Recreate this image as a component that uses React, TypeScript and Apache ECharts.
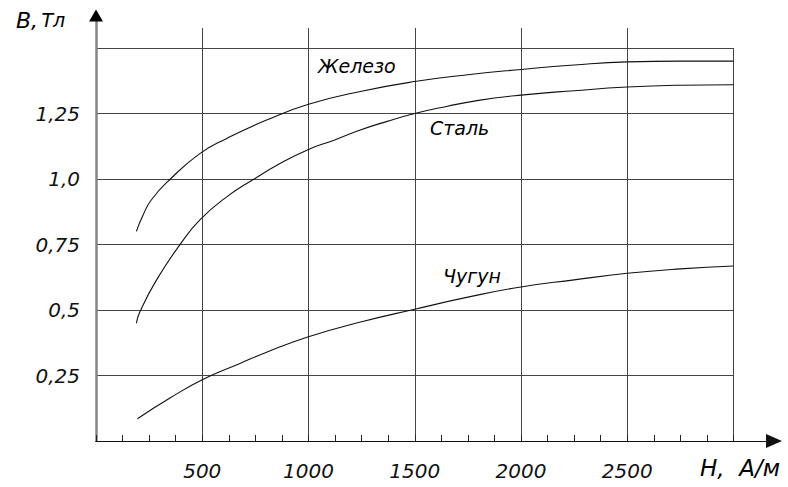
import React, { useEffect, useRef } from "react";
import * as echarts from "echarts";

// H, A/m  and  B, T
const H_IRON = [190, 220, 260, 350, 490, 615, 800, 1000, 1250, 1500, 1750, 2000, 2250, 2500, 2750, 3000];
const B_IRON = [0.80, 0.86, 0.92, 1.0, 1.098, 1.155, 1.224, 1.285, 1.335, 1.372, 1.398, 1.418, 1.435, 1.447, 1.45, 1.45];

const H_STEEL = [190, 207, 285, 400, 490, 615, 740, 866, 1000, 1120, 1240, 1370, 1500, 1650, 1800, 2000, 2250, 2500, 2750, 3000];
const B_STEEL = [0.45, 0.494, 0.615, 0.755, 0.845, 0.932, 0.998, 1.059, 1.113, 1.148, 1.186, 1.22, 1.25, 1.277, 1.30, 1.32, 1.337, 1.351, 1.358, 1.36];

const H_CAST = [195, 350, 500, 680, 800, 1000, 1250, 1500, 1750, 2000, 2250, 2500, 2750, 3000];
const B_CAST = [0.085, 0.165, 0.234, 0.297, 0.338, 0.398, 0.455, 0.503, 0.549, 0.588, 0.615, 0.64, 0.657, 0.668];

const X_TICK_LABELS: Record<string, string> = { "500": "500", "1000": "1000", "1500": "1500", "2000": "2000", "2500": "2500" };
const Y_TICK_LABELS: Record<string, string> = { "0.25": "0,25", "0.5": "0,5", "0.75": "0,75", "1": "1,0", "1.25": "1,25" };

const CURVE_NAMES = ["Железо", "Сталь", "Чугун"];

const zip = (h: number[], b: number[]) => h.map((v, i) => [v, b[i]]);

const FONT = "DejaVu Sans";
const GRID_COLOR = "#444";

export default function App() {
  const ref = useRef<HTMLDivElement>(null);
  useEffect(() => {
    if (!ref.current) return;
    const chart = echarts.init(ref.current, null, { renderer: "svg" });
    const labelStyle = { fontFamily: FONT, fontStyle: "italic" as const, fontSize: 20, color: "#111" };
    const hidden = { axisLine: { show: false }, axisTick: { show: false }, axisLabel: { show: false }, splitLine: { show: false } };
    const lineSeries = (name: string, data: number[][]) => ({
      name,
      type: "line",
      xAxisIndex: 0,
      yAxisIndex: 0,
      data,
      smooth: 0.5,
      showSymbol: false,
      silent: true,
      lineStyle: { color: "#111", width: 1.1 },
    });
    chart.setOption({
      animation: false,
      backgroundColor: "#fff",
      grid: [
        { left: 96, right: 54.5, top: 48, bottom: 46 }, // data grid
        { left: 96, right: 14, top: 15.5, bottom: 46 }, // arrows
        { left: 96, right: 54.5, top: 28, bottom: 46 }, // vertical grid lines, x ticks
        { left: 96, right: 54.5, top: 21.5, bottom: 46 }, // y axis line
      ],
      xAxis: [
        {
          gridIndex: 0, type: "value", min: 0, max: 3000, interval: 500,
          axisLine: { show: false }, axisTick: { show: false }, axisLabel: { show: false },
          splitLine: { show: true, showMinLine: false, showMaxLine: true, lineStyle: { color: GRID_COLOR, width: 1 } },
        },
        {
          gridIndex: 1, type: "value", min: 0, max: 3190,
          axisLine: { show: true, onZero: false, symbol: ["none", "triangle"], symbolSize: [14, 16], lineStyle: { color: "#111", width: 1 } },
          axisTick: { show: false }, axisLabel: { show: false }, splitLine: { show: false },
        },
        {
          gridIndex: 2, type: "value", min: 0, max: 3000, interval: 500,
          axisLine: { show: true, onZero: false, lineStyle: { color: "#111", width: 1 } },
          axisTick: { show: true, inside: true, length: 6, lineStyle: { color: "#222", width: 1 } },
          minorTick: { show: true, splitNumber: 4, length: 6, lineStyle: { color: "#222", width: 1 } },
          axisLabel: {
            ...labelStyle, margin: 20,
            formatter: (v: number) => X_TICK_LABELS[String(v)] ?? "",
          },
          splitLine: { show: true, showMinLine: false, showMaxLine: false, lineStyle: { color: GRID_COLOR, width: 1 } },
        },
        { gridIndex: 3, type: "value", min: 0, max: 3000, show: false },
      ],
      yAxis: [
        {
          gridIndex: 0, type: "value", min: 0, max: 1.5, interval: 0.25,
          axisLine: { show: false }, axisTick: { show: false },
          axisLabel: { ...labelStyle, margin: 16, formatter: (v: number) => Y_TICK_LABELS[String(v)] ?? "" },
          splitLine: { show: true, showMinLine: false, showMaxLine: true, lineStyle: { color: GRID_COLOR, width: 1 } },
        },
        {
          gridIndex: 1, type: "value", min: 0, max: 1,
          axisLine: { show: true, onZero: false, symbol: ["none", "triangle"], symbolSize: [14, 12], lineStyle: { color: "#000", width: 0 } },
          axisTick: { show: false }, axisLabel: { show: false }, splitLine: { show: false },
        },
        { gridIndex: 2, type: "value", min: 0, max: 1, ...hidden },
        {
          gridIndex: 3, type: "value", min: 0, max: 1,
          axisLine: { show: true, onZero: false, lineStyle: { color: "#858585", width: 2.5 } },
          axisTick: { show: false }, axisLabel: { show: false }, splitLine: { show: false },
        },
      ],
      series: [
        lineSeries(CURVE_NAMES[0], zip(H_IRON, B_IRON)),
        lineSeries(CURVE_NAMES[1], zip(H_STEEL, B_STEEL)),
        lineSeries(CURVE_NAMES[2], zip(H_CAST, B_CAST)),
      ],
      graphic: [
        {
          type: "text", x: 16, y: 20,
          style: {
            text: "{a|B,} {b|Тл}",
            verticalAlign: "middle",
            rich: {
              a: { fontFamily: FONT, fontStyle: "italic", fontSize: 22, fill: "#000" },
              b: { fontFamily: FONT, fontStyle: "italic", fontSize: 19, fill: "#000" },
            },
          },
        },
        {
          type: "text", x: 700, y: 468,
          style: { text: "H,  А/м", font: `italic 23px "${FONT}"`, fill: "#000", verticalAlign: "middle" },
        },
        {
          type: "text", x: 318, y: 66,
          style: { text: CURVE_NAMES[0], font: `italic 19px "${FONT}"`, fill: "#000", verticalAlign: "middle" },
        },
        {
          type: "text", x: 430, y: 128,
          style: { text: CURVE_NAMES[1], font: `italic 19px "${FONT}"`, fill: "#000", verticalAlign: "middle" },
        },
        {
          type: "text", x: 443, y: 276,
          style: { text: CURVE_NAMES[2], font: `italic 19px "${FONT}"`, fill: "#000", verticalAlign: "middle" },
        },
      ],
    });
    return () => chart.dispose();
  }, []);
  return <div ref={ref} style={{ position: "fixed", left: 0, top: 0, width: 788, height: 487 }} />;
}
